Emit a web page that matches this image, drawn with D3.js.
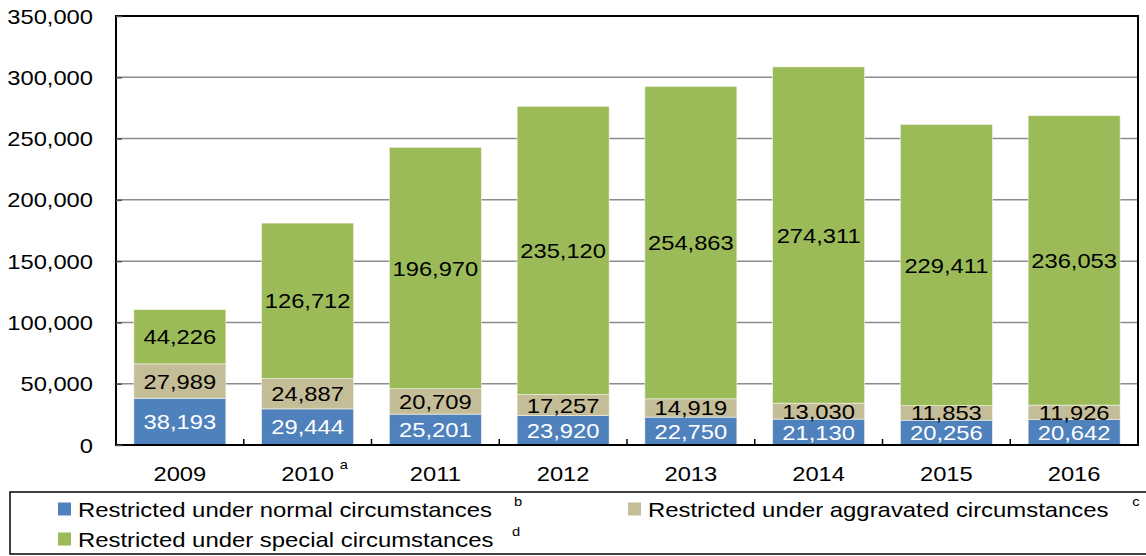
<!DOCTYPE html>
<html>
<head lang="en">
    <meta charset="UTF-8">
    <title>Restricted</title>
    <script src="https://cdnjs.cloudflare.com/ajax/libs/d3/7.8.5/d3.min.js" charset="utf-8"></script>
    <style>
        body { margin: 0; background: white; }
        text { font-family: "Liberation Sans", Arial, sans-serif; }
    </style>
</head>
<body>
<div id="chart"></div>
<script>

var years = ['2009', '2010', '2011', '2012', '2013', '2014', '2015', '2016'];
var yearNotes = ['', 'a', '', '', '', '', '', ''];
var normal = [38193, 29444, 25201, 23920, 22750, 21130, 20256, 20642];
var aggravated = [27989, 24887, 20709, 17257, 14919, 13030, 11853, 11926];
var special = [44226, 126712, 196970, 235120, 254863, 274311, 229411, 236053];
var yTicks = [0, 50000, 100000, 150000, 200000, 250000, 300000, 350000];

var seriesNames = ['Restricted under normal circumstances', 'Restricted under aggravated circumstances', 'Restricted under special circumstances'];
var seriesNotes = ['b', 'c', 'd'];
var colors = ['#4f81bd', '#c4bd97', '#9bbb59'];
var labelColors = ['#ffffff', '#000000', '#000000'];

var width = 1146, height = 556;
var margin = {top: 16, bottom: 111, left: 116, right: 8};
var sx = 1.13;   // the original text is drawn a little wide

function place(px, py, s) {
    return 'translate(' + px + ',' + py + ') scale(' + (s || sx) + ',1)';
}

var svg = d3.select('#chart').append('svg')
    .attr('width', width)
    .attr('height', height);

var x = d3.scaleBand()
    .domain(years)
    .range([margin.left, width - margin.right])
    .paddingInner(0.28)
    .paddingOuter(0.14);

var y = d3.scaleLinear()
    .domain([0, 350000])
    .range([height - margin.bottom, margin.top]);

// gridlines
svg.append('g').selectAll('line')
    .data(yTicks.slice(1, -1))
    .enter().append('line')
    .attr('x1', margin.left).attr('x2', width - margin.right)
    .attr('y1', function(d) { return y(d); })
    .attr('y2', function(d) { return y(d); })
    .attr('stroke', '#8c8c8c')
    .attr('stroke-width', 1.5);

var rows = years.map(function(yr, i) {
    return {year: yr, normal: normal[i], aggravated: aggravated[i], special: special[i]};
});
var stack = d3.stack().keys(['normal', 'aggravated', 'special'])(rows);

var layers = svg.append('g').selectAll('g')
    .data(stack)
    .enter().append('g')
    .attr('fill', function(d, i) { return colors[i]; });

layers.selectAll('rect')
    .data(function(d) { return d; })
    .enter().append('rect')
    .attr('x', function(d) { return x(d.data.year); })
    .attr('width', x.bandwidth())
    .attr('y', function(d) { return y(d[1]); })
    .attr('height', function(d) { return y(d[0]) - y(d[1]); })
    .attr('stroke', '#f4f4ec')
    .attr('stroke-width', 0.6);

// value labels
stack.forEach(function(layer, i) {
    svg.append('g').selectAll('text')
        .data(layer)
        .enter().append('text')
        .attr('transform', function(d) {
            return place(x(d.data.year) + x.bandwidth() / 2, y((d[0] + d[1]) / 2) + 7.5);
        })
        .attr('text-anchor', 'middle')
        .attr('font-size', 21)
        .attr('fill', labelColors[i])
        .text(function(d) { return d3.format(',')(d[1] - d[0]); });
});

// frame
svg.append('rect')
    .attr('x', margin.left).attr('y', margin.top)
    .attr('width', width - margin.right - margin.left)
    .attr('height', height - margin.bottom - margin.top)
    .attr('fill', 'none')
    .attr('stroke', '#000')
    .attr('stroke-width', 2);

// y axis
var yAxis = svg.append('g')
    .attr('transform', 'translate(' + margin.left + ',0)')
    .call(d3.axisRight(y).tickValues(yTicks).tickSize(6).tickFormat(''));
yAxis.select('.domain').remove();
yAxis.selectAll('line').attr('stroke', '#555').attr('stroke-width', 1.5);

svg.append('g').selectAll('text')
    .data(yTicks)
    .enter().append('text')
    .attr('transform', function(d) { return place(margin.left - 23, y(d) + 7.5); })
    .attr('text-anchor', 'end')
    .attr('font-size', 21)
    .text(function(d) { return d3.format(',')(d); });

// x axis ticks at category boundaries
var step = x.step();
svg.append('g').selectAll('line')
    .data(years.slice(1))
    .enter().append('line')
    .attr('x1', function(d) { return x(d) - step * 0.14; })
    .attr('x2', function(d) { return x(d) - step * 0.14; })
    .attr('y1', y(0)).attr('y2', y(0) - 6)
    .attr('stroke', '#000').attr('stroke-width', 1.5);

svg.append('g').selectAll('text')
    .data(years)
    .enter().append('text')
    .attr('transform', function(d) { return place(x(d) + x.bandwidth() / 2, y(0) + 36); })
    .attr('text-anchor', 'middle')
    .attr('font-size', 21)
    .text(function(d) { return d; });

svg.append('g').selectAll('text')
    .data(years.filter(function(d, i) { return yearNotes[i]; }))
    .enter().append('text')
    .attr('transform', function(d) { return place(x(d) + x.bandwidth() / 2 + 32, y(0) + 24); })
    .attr('text-anchor', 'start')
    .attr('font-size', 13)
    .text(function(d) { return yearNotes[years.indexOf(d)]; });

// legend
svg.append('rect')
    .attr('x', 10).attr('y', 492)
    .attr('width', width + 10).attr('height', 62)
    .attr('fill', 'none')
    .attr('stroke', '#000')
    .attr('stroke-width', 1.5);

var legendPos = [[58, 509], [628, 509], [58, 539]];
var notePos = [518, 1136, 516];
seriesNames.forEach(function(name, i) {
    svg.append('rect')
        .attr('x', legendPos[i][0]).attr('y', legendPos[i][1] - 6.5)
        .attr('width', 13).attr('height', 13)
        .attr('fill', colors[i]);
    svg.append('text')
        .attr('transform', place(legendPos[i][0] + 20, legendPos[i][1] + 7.5, 1.165))
        .attr('font-size', 20.5)
        .text(name);
    svg.append('text')
        .attr('transform', place(notePos[i], legendPos[i][1] - 3))
        .attr('text-anchor', 'middle')
        .attr('font-size', 13)
        .text(seriesNotes[i]);
});

</script>
</body>
</html>
